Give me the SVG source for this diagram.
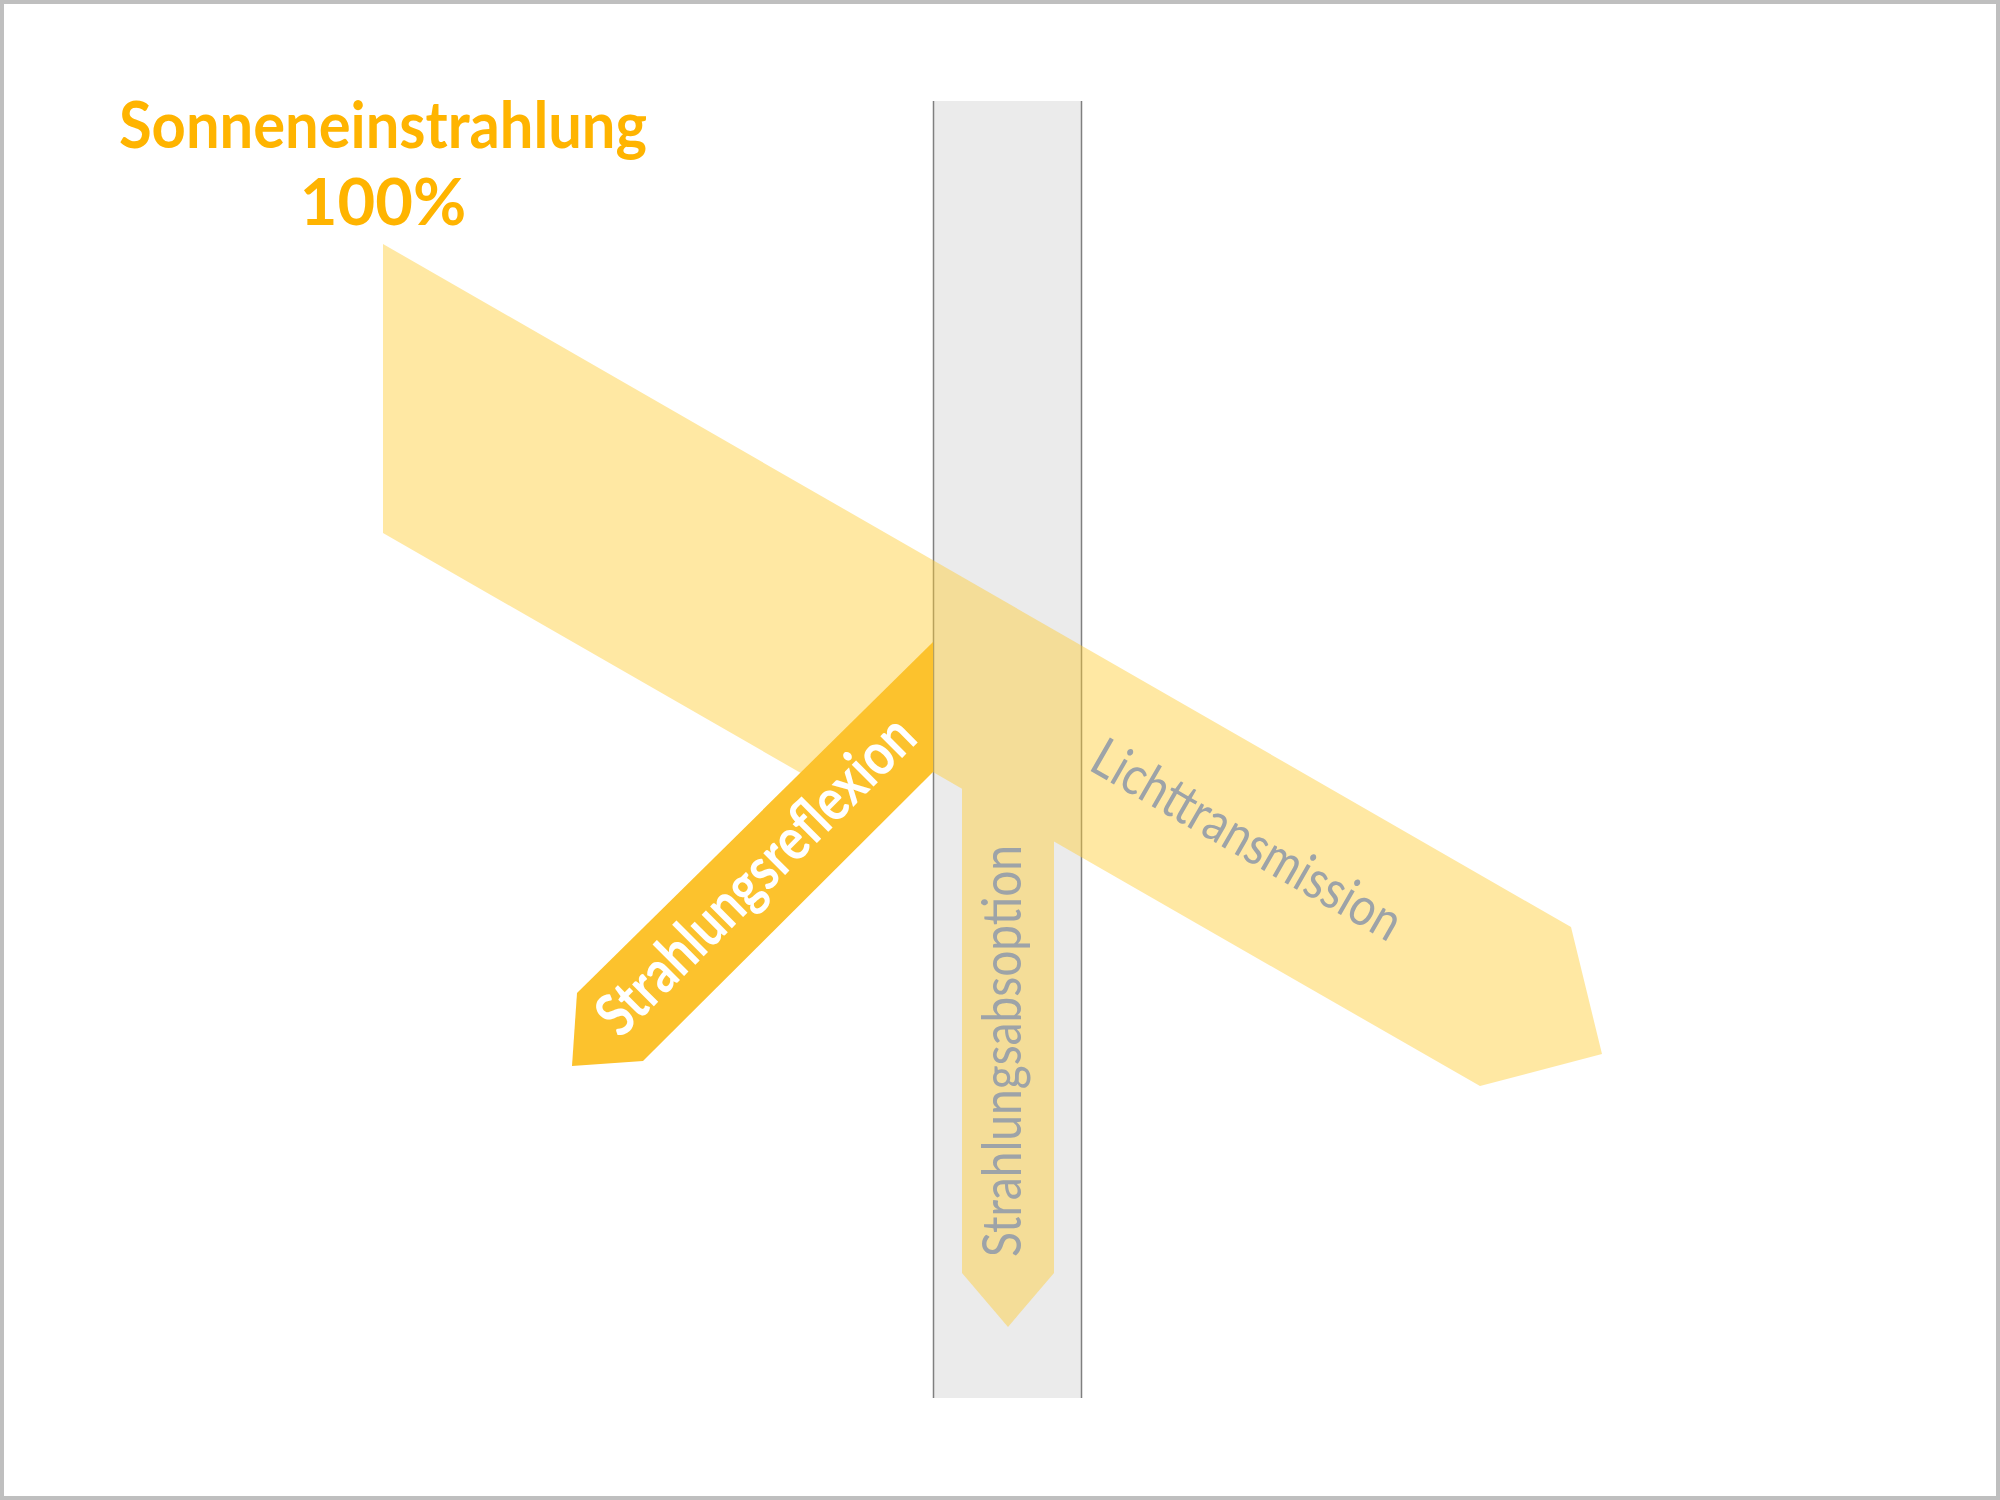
<svg xmlns="http://www.w3.org/2000/svg" width="2000" height="1500" viewBox="0 0 2000 1500">
  <style>
    .title { font-family: Lato, "Open Sans", "Liberation Sans", sans-serif; font-weight: bold; font-size: 65px; fill: #FFB400; text-anchor: middle; }
    .gray { font-family: Lato, "Open Sans", "Liberation Sans", sans-serif; font-size: 54px; fill: #9DA3A8; }
    .white { font-family: Lato, "Open Sans", "Liberation Sans", sans-serif; font-weight: bold; font-size: 60px; fill: #FFFFFF; text-anchor: middle; }
    .beam { fill: #FFCC33; fill-opacity: 0.45; }
    .refl { fill: #FCC22D; }
    .pane { fill: #EBEBEB; }
    .edge { stroke: #7F7F7F; stroke-width: 1.5; }
  </style>
  <rect x="2" y="2" width="1996" height="1496" fill="#FFFFFF" stroke="#BFBFBF" stroke-width="4"/>

  <g id="glass">
    <rect class="pane" x="933.5" y="101" width="148" height="1297"/>
    <line class="edge" x1="933.5" y1="101" x2="933.5" y2="1398"/>
    <line class="edge" x1="1081.5" y1="101" x2="1081.5" y2="1398"/>
  </g>

  <g id="connectors">
    <g id="beam">
      <path class="beam" d="M383,244 L1571,927 L1602,1054 L1480,1086 L1054,841.6 L1054,1273 L1008,1327 L962,1273 L962,788.7 L933,772 L860,807 L383,533 Z"/>
    </g>
    <g id="reflection">
      <path class="refl" d="M933,642 L577,993 L572,1066 L643,1061 L933,772 Z"/>
    </g>
  </g>

  <g id="title">
    <text class="title" x="383" y="148" textLength="528" lengthAdjust="spacingAndGlyphs">Sonneneinstrahlung</text>
    <text class="title" x="383" y="225">100%</text>
  </g>

  <g id="label-reflexion">
    <text class="white" x="770" y="890" transform="rotate(-45 770 890)" textLength="423" lengthAdjust="spacingAndGlyphs">Strahlungsreflexion</text>
  </g>

  <g id="label-absorption">
    <text class="gray" x="1021" y="1257" transform="rotate(-90 1021 1257)" textLength="412" lengthAdjust="spacingAndGlyphs">Strahlungsabsoption</text>
  </g>

  <g id="label-transmission">
    <text class="gray" x="1087" y="769" transform="rotate(29.9 1087 769)" textLength="348" lengthAdjust="spacingAndGlyphs">Lichttransmission</text>
  </g>
</svg>
